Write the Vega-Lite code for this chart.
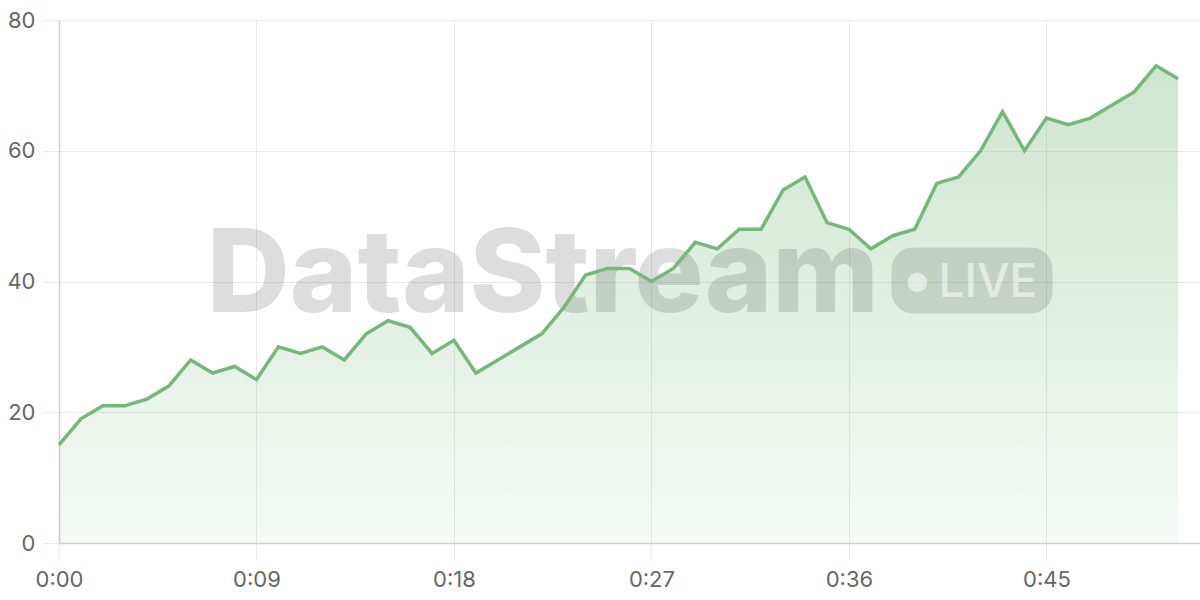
{
  "$schema": "https://vega.github.io/schema/vega-lite/v6.json",
  "width": 1141,
  "height": 523,
  "autosize": "none",
  "padding": {"left": 59, "top": 20, "right": 0, "bottom": 57},
  "background": "white",
  "config": {
    "view": {"stroke": null},
    "axis": {
      "gridColor": "#e8e8e8",
      "tickColor": "#e8e8e8",
      "tickSize": 16,
      "domainColor": "#cfcfcf",
      "domainWidth": 1.5,
      "labelFont": "Inter",
      "labelFontSize": 22,
      "labelColor": "#666666",
      "labelFlush": false,
      "title": null
    }
  },
  "datasets": {
    "series": [
      {"t": 0, "v": 15}, {"t": 1, "v": 19}, {"t": 2, "v": 21}, {"t": 3, "v": 21},
      {"t": 4, "v": 22}, {"t": 5, "v": 24}, {"t": 6, "v": 28}, {"t": 7, "v": 26},
      {"t": 8, "v": 27}, {"t": 9, "v": 25}, {"t": 10, "v": 30}, {"t": 11, "v": 29},
      {"t": 12, "v": 30}, {"t": 13, "v": 28}, {"t": 14, "v": 32}, {"t": 15, "v": 34},
      {"t": 16, "v": 33}, {"t": 17, "v": 29}, {"t": 18, "v": 31}, {"t": 19, "v": 26},
      {"t": 20, "v": 28}, {"t": 21, "v": 30}, {"t": 22, "v": 32}, {"t": 23, "v": 36},
      {"t": 24, "v": 41}, {"t": 25, "v": 42}, {"t": 26, "v": 42}, {"t": 27, "v": 40},
      {"t": 28, "v": 42}, {"t": 29, "v": 46}, {"t": 30, "v": 45}, {"t": 31, "v": 48},
      {"t": 32, "v": 48}, {"t": 33, "v": 54}, {"t": 34, "v": 56}, {"t": 35, "v": 49},
      {"t": 36, "v": 48}, {"t": 37, "v": 45}, {"t": 38, "v": 47}, {"t": 39, "v": 48},
      {"t": 40, "v": 55}, {"t": 41, "v": 56}, {"t": 42, "v": 60}, {"t": 43, "v": 66},
      {"t": 44, "v": 60}, {"t": 45, "v": 65}, {"t": 46, "v": 64}, {"t": 47, "v": 65},
      {"t": 48, "v": 67}, {"t": 49, "v": 69}, {"t": 50, "v": 73}, {"t": 51, "v": 71}
    ],
    "watermark": [
      {"label": "DataStream", "x": 22.05, "y": 35.3}
    ],
    "badge": [
      {"x": 37.94, "x2": 45.28, "y": 45.2, "y2": 35.1, "dotx": 39.12, "doty": 39.85, "tx": 40.08, "ty": 37.56, "label": "LIVE"}
    ]
  },
  "layer": [
    {
      "data": {"name": "series"},
      "mark": {
        "type": "area",
        "color": {
          "gradient": "linear",
          "x1": 0, "y1": 0, "x2": 0, "y2": 1,
          "stops": [
            {"offset": 0, "color": "rgba(118,184,121,0.36)"},
            {"offset": 1, "color": "rgba(118,184,121,0.07)"}
          ]
        }
      },
      "encoding": {
        "x": {
          "field": "t",
          "type": "quantitative",
          "scale": {"domain": [0, 52], "nice": false},
          "axis": {
            "values": [0, 9, 18, 27, 36, 45],
            "labelExpr": "floor(datum.value / 60) + ':' + (datum.value % 60 < 10 ? '0' : '') + (datum.value % 60)",
            "labelPadding": 10
          }
        },
        "y": {
          "field": "v",
          "type": "quantitative",
          "scale": {"domain": [0, 80], "nice": false},
          "axis": {"values": [0, 20, 40, 60, 80], "labelPadding": 8}
        }
      }
    },
    {
      "data": {"name": "watermark"},
      "mark": {
        "type": "text",
        "font": "Inter",
        "fontWeight": 800,
        "fontSize": 115,
        "align": "center",
        "baseline": "alphabetic",
        "color": "black",
        "opacity": 0.13
      },
      "encoding": {
        "x": {"field": "x", "type": "quantitative"},
        "y": {"field": "y", "type": "quantitative"},
        "text": {"field": "label"}
      }
    },
    {
      "data": {"name": "badge"},
      "mark": {"type": "rect", "cornerRadius": 22, "color": "black", "opacity": 0.12},
      "encoding": {
        "x": {"field": "x", "type": "quantitative"},
        "x2": {"field": "x2"},
        "y": {"field": "y", "type": "quantitative"},
        "y2": {"field": "y2"}
      }
    },
    {
      "data": {"name": "badge"},
      "mark": {"type": "point", "filled": true, "shape": "circle", "size": 380, "color": "white", "opacity": 0.55},
      "encoding": {
        "x": {"field": "dotx", "type": "quantitative"},
        "y": {"field": "doty", "type": "quantitative"}
      }
    },
    {
      "data": {"name": "badge"},
      "mark": {
        "type": "text",
        "font": "Inter",
        "fontWeight": 500,
        "fontSize": 46,
        "align": "left",
        "baseline": "alphabetic",
        "color": "white",
        "opacity": 0.55
      },
      "encoding": {
        "x": {"field": "tx", "type": "quantitative"},
        "y": {"field": "ty", "type": "quantitative"},
        "text": {"field": "label"}
      }
    },
    {
      "data": {"name": "series"},
      "mark": {"type": "line", "color": "#76b879", "strokeWidth": 3.5, "strokeJoin": "miter"},
      "encoding": {
        "x": {"field": "t", "type": "quantitative"},
        "y": {"field": "v", "type": "quantitative"}
      }
    }
  ]
}
